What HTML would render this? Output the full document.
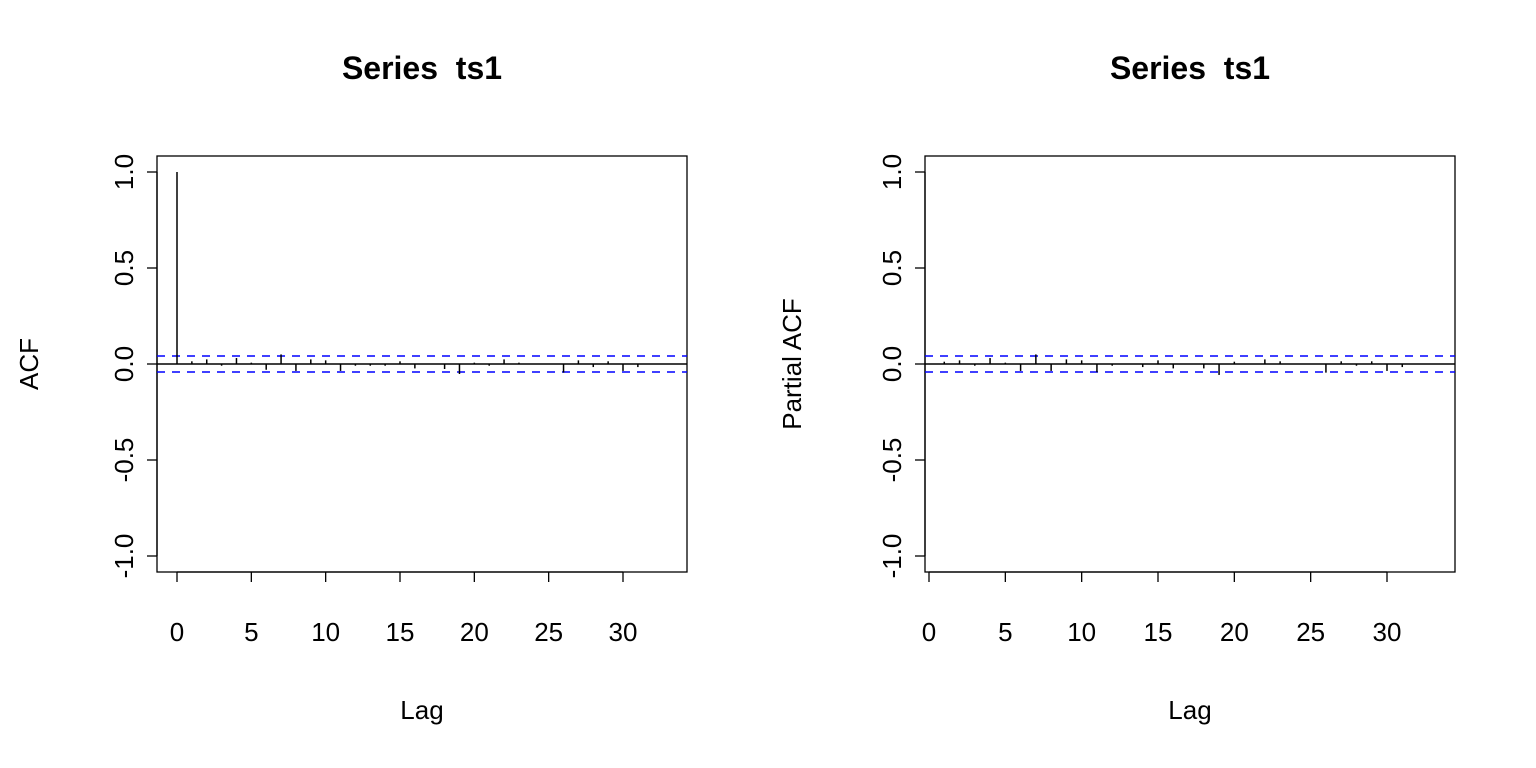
<!DOCTYPE html>
<html><head><meta charset="utf-8"><style>
html,body{margin:0;padding:0;background:#fff;}
svg{display:block;font-family:"Liberation Sans",Arial,sans-serif;}
text{white-space:pre;}
</style></head><body>
<svg id="s" width="1536" height="768"></svg>
<script>
const acfLags=[0,1,2,3,4,5,6,7,8,9,10,11,12,13,14,15,16,17,18,19,20,21,22,23,24,25,26,27,28,29,30,31,32,33];
const acfVals=[1,0.014,0.024,-0.009,0.031,0.007,-0.03,0.05,-0.036,0.024,0.019,-0.036,-0.009,-0.009,-0.009,0.014,-0.023,0.001,-0.026,-0.052,0.007,-0.009,0.024,0.007,0.001,0.001,-0.045,0.019,-0.016,0.014,-0.036,-0.016,0.001,0.001];
const pacfLags=[1,2,3,4,5,6,7,8,9,10,11,12,13,14,15,16,17,18,19,20,21,22,23,24,25,26,27,28,29,30,31,32,33];
const pacfVals=[0.012,0.019,-0.009,0.031,0.007,-0.036,0.05,-0.036,0.024,0.019,-0.043,-0.009,0.001,-0.016,0.019,-0.023,0.001,-0.023,-0.057,0.012,0.001,0.024,0.014,0.001,0.001,-0.045,0.014,-0.009,0.014,-0.036,-0.016,0.001,0.001];
const ciVal=0.0415;
const yTicks=[-1,-0.5,0,0.5,1];
const yTickLabels=["-1.0","-0.5","0.0","0.5","1.0"];
const xTicks=[0,5,10,15,20,25,30];
const NS="http://www.w3.org/2000/svg";
const svg=document.getElementById('s');
function el(t,a,txt){const e=document.createElementNS(NS,t);for(const k in a)e.setAttribute(k,a[k]);if(txt!==undefined)e.textContent=txt;svg.appendChild(e);return e;}
function panel(p){
  const x=v=>p.x0+(v-p.l0)*(p.x30-p.x0)/(30-p.l0);
  const y=v=>364-v*192;
  const box=el('rect',{x:p.bx,y:156,width:530,height:416,fill:'none',stroke:'#000','stroke-width':1.3});
  
  
  const t=el('text',{x:p.bx+265,y:79,'text-anchor':'middle','font-size':32,'font-weight':'bold'},'Series  ts1');
  
  
  const xl=el('text',{x:p.bx+265,y:719,'text-anchor':'middle','font-size':26},'Lag');
  
  
  const yl=el('text',{x:p.yt,y:364,'text-anchor':'middle','font-size':26,transform:`rotate(-90 ${p.yt} 364)`},p.ylab);
  
  
  el('line',{x1:p.bx,x2:p.bx,y1:y(1),y2:y(-1),stroke:'#000','stroke-width':1.3});
  yTicks.forEach((v,i)=>{
    el('line',{x1:p.bx-10,x2:p.bx,y1:y(v),y2:y(v),stroke:'#000','stroke-width':1.3});
    const tl=el('text',{x:p.bx-33,y:y(v),'text-anchor':'middle','font-size':26,transform:`rotate(-90 ${p.bx-33} ${y(v)})`,dy:9},yTickLabels[i]);
    
    
  });
  el('line',{x1:x(xTicks[0]),x2:x(xTicks[xTicks.length-1]),y1:572,y2:572,stroke:'#000','stroke-width':1.3});
  xTicks.forEach(v=>{
    el('line',{x1:x(v),x2:x(v),y1:572,y2:582,stroke:'#000','stroke-width':1.3});
    const tl=el('text',{x:x(v),y:641,'text-anchor':'middle','font-size':26},String(v));
    
    
  });
  el('line',{x1:p.bx,x2:p.bx+530,y1:y(0),y2:y(0),stroke:'#000','stroke-width':1.5});
  [ciVal,-ciVal].forEach(c=>{
    const l=el('line',{x1:p.bx,x2:p.bx+530,y1:y(c),y2:y(c),stroke:'#0000ff','stroke-width':1.5,'stroke-dasharray':'8 7'});
    
    
  });
  p.lags.forEach((lag,i)=>{
    const b=el('line',{x1:x(lag),x2:x(lag),y1:y(0),y2:y(p.vals[i]),stroke:'#000','stroke-width':1.5});
    
    
  });
}
panel({id:'acf',bx:157,x0:177,x30:623,l0:0,yt:38,ylab:'ACF',lags:acfLags,vals:acfVals});
panel({id:'pacf',bx:925,x0:929,x30:1387,l0:0,yt:801,ylab:'Partial ACF',lags:pacfLags,vals:pacfVals});
</script>
</body></html>
